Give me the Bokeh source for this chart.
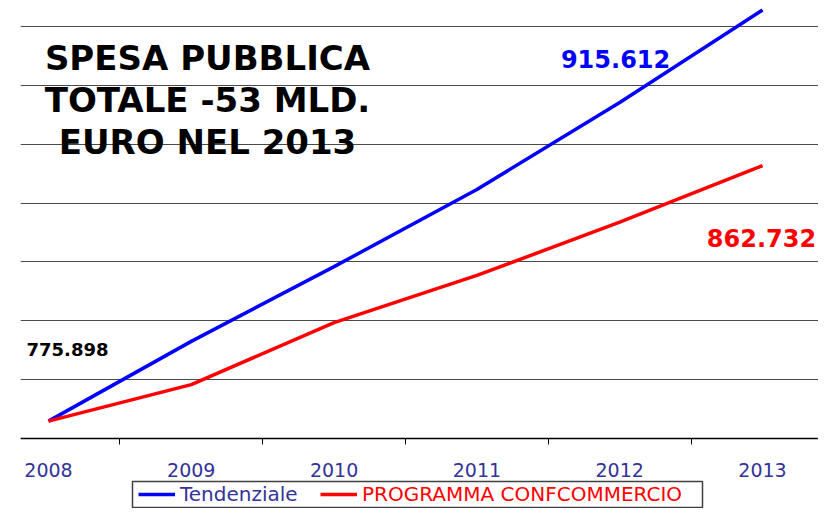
from bokeh.plotting import figure
from bokeh.models import (Range1d, FixedTicker, Legend, LegendItem, Label,
                          BoxAnnotation)
from bokeh.embed import file_html
from bokeh.resources import INLINE

# ---- data ----
years = ["2008", "2009", "2010", "2011", "2012", "2013"]
tendenziale = [775.898, 803.0, 828.4, 854.6, 884.2, 915.612]
programma = [775.898, 788.3, 809.4, 825.4, 843.5, 862.732]
grid_values = [770, 790, 810, 830, 850, 870, 890, 910]
title_lines = ["SPESA PUBBLICA", "TOTALE -53 MLD.", "EURO NEL 2013"]
series_names = ["Tendenziale", "PROGRAMMA CONFCOMMERCIO"]

xs = list(range(len(years)))

p = figure(width=818, height=508, output_backend="svg", toolbar_location=None,
           x_range=Range1d(-0.196, 5.392), y_range=Range1d(746.21, 918.83),
           min_border_left=20, min_border_right=0, min_border_top=0,
           min_border_bottom=0)
p.outline_line_color = None
p.background_fill_color = "white"
p.border_fill_color = "white"

# grid
p.xgrid.visible = False
p.ygrid.ticker = FixedTicker(ticks=grid_values)
p.ygrid.grid_line_color = "#4a4a4a"
p.ygrid.grid_line_width = 1
p.yaxis.visible = False

# x axis, drawn at the 770 baseline
xa = p.xaxis[0]
xa.fixed_location = grid_values[0]
xa.ticker = FixedTicker(ticks=xs, minor_ticks=[i + 0.5 for i in xs[:-1]])
xa.major_label_overrides = {i: y for i, y in zip(xs, years)}
xa.major_tick_line_color = None
xa.major_tick_in = 0
xa.major_tick_out = 0
xa.minor_tick_in = 0
xa.minor_tick_out = 6
xa.minor_tick_line_color = "black"
xa.axis_line_color = "black"
xa.axis_line_width = 1.5
xa.major_label_text_font = "DejaVu Sans"
xa.major_label_text_font_size = "19px"
xa.major_label_text_color = "#333399"
xa.major_label_standoff = 19

# lines
rb = p.line(xs, tendenziale, line_color="#0000ff", line_width=3.5)
rr = p.line(xs, programma, line_color="#ff0000", line_width=3.5)

# legend frame
box = BoxAnnotation(left=132, right=702, top=481, bottom=507,
                    left_units="canvas", right_units="canvas",
                    top_units="canvas", bottom_units="canvas",
                    fill_color="white", fill_alpha=1,
                    line_color="#404040", line_alpha=1, line_width=1.5)
p.add_layout(box)

def make_legend(name, rend, color, loc):
    lg = Legend(items=[LegendItem(label=name, renderers=[rend])],
                location=loc, orientation="horizontal",
                label_text_color=color, label_text_font="DejaVu Sans",
                label_text_font_size="20px", glyph_width=37, glyph_height=20,
                label_standoff=5, padding=0, margin=0,
                border_line_color=None, background_fill_alpha=0)
    p.add_layout(lg)

make_legend(series_names[0], rb, "#333399", (118, 2))
make_legend(series_names[1], rr, "#ff0000", (300, 2))

# title
for txt, yy in zip(title_lines, [899.46, 884.9, 870.7]):
    p.add_layout(Label(x=1.1134, y=yy, text=txt, text_align="center",
                       text_baseline="alphabetic", text_font="DejaVu Sans",
                       text_font_style="bold", text_font_size="34px",
                       text_color="black"))

# value labels
p.add_layout(Label(x=3.971, y=899.1, text=f"{tendenziale[-1]:.3f}",
                   text_align="center", text_baseline="alphabetic",
                   text_font="DejaVu Sans", text_font_style="bold",
                   text_font_size="24px", text_color="#0000ff"))
p.add_layout(Label(x=4.993, y=837.96, text=f"{programma[-1]:.3f}",
                   text_align="center", text_baseline="alphabetic",
                   text_font="DejaVu Sans", text_font_style="bold",
                   text_font_size="24px", text_color="#ff0000"))
p.add_layout(Label(x=-0.154, y=800.2, text=f"{tendenziale[0]:.3f}",
                   text_align="left", text_baseline="alphabetic",
                   text_font="DejaVu Sans", text_font_style="bold",
                   text_font_size="18px", text_color="black"))

open("out.html", "w").write(file_html(p, INLINE))
